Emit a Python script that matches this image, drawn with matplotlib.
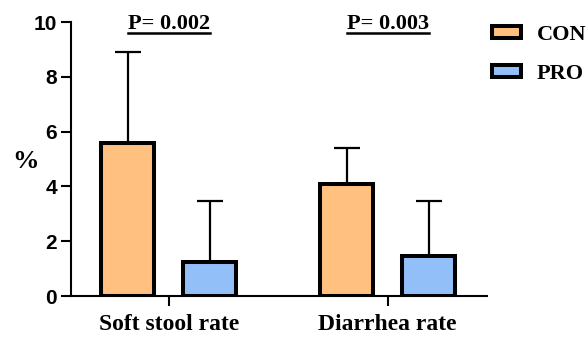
import numpy as np
import matplotlib.pyplot as plt

# --- data ---
categories = ["Soft stool rate", "Diarrhea rate"]
groups = ["CON", "PRO"]
con_mean = [5.6, 4.1]
con_sd = [3.3, 1.3]
pro_mean = [1.25, 1.47]
pro_sd = [2.2, 2.0]
p_values = ["P= 0.002", "P= 0.003"]
colors = ["#FFC080", "#92BFF8"]

serif = "Liberation Serif"
sans = "Liberation Sans"

fig = plt.figure(figsize=(5.88, 3.39), dpi=100)
ax = fig.add_axes([0.1207, 0.1268, 0.707, 0.8082])

x = np.arange(len(categories))
w = 0.242
off = 0.187
ekw = dict(elinewidth=1.6, capthick=1.6, ecolor="black")
for i, (m, s, lab) in enumerate([(con_mean, con_sd, groups[0]), (pro_mean, pro_sd, groups[1])]):
    pos = x - off if i == 0 else x + off
    ax.bar(pos, m, width=w, color=colors[i], edgecolor="black", linewidth=2.9,
           label=lab, zorder=3,
           yerr=[np.zeros(len(m)), s], capsize=9.5, error_kw=ekw)

ax.set_xlim(-0.447, 1.452)
ax.set_ylim(0, 10)
ax.set_yticks([0, 2, 4, 6, 8, 10])
ax.set_xticks(x)
ax.set_xticklabels(categories, fontfamily=serif, fontweight="bold", fontsize=17)
for t in ax.get_yticklabels():
    t.set_fontfamily(sans)
    t.set_fontweight("bold")
    t.set_fontsize(15)

for sp in ["top", "right"]:
    ax.spines[sp].set_visible(False)
for sp in ["left", "bottom"]:
    ax.spines[sp].set_linewidth(1.5)
ax.tick_params(axis="both", width=1.5, length=7, pad=3)
ax.tick_params(axis="x", pad=6)

ax.set_ylabel("%", fontfamily=serif, fontweight="bold", fontsize=19,
              rotation=0, ha="center", va="center")
ax.yaxis.set_label_coords(-0.11, 0.49)

for xi, p in zip(x, p_values):
    ax.text(xi, 9.75, p, ha="center", va="baseline", fontfamily=serif,
            fontweight="bold", fontsize=16, clip_on=False)
    ax.plot([xi - 0.187, xi + 0.187], [9.6, 9.6], color="black", lw=1.8,
            clip_on=False)

leg = fig.legend(*ax.get_legend_handles_labels(), loc="upper left",
                 bbox_to_anchor=(492 / 588, 1 - 25 / 339), frameon=False,
                 prop={"family": serif, "weight": "bold", "size": 16},
                 handlelength=1.3, handleheight=0.4, handletextpad=0.7,
                 labelspacing=0.85, borderpad=0, borderaxespad=0)
for h in leg.legend_handles:
    h.set_linewidth(2.9)

fig.savefig("out.png", dpi=100)
